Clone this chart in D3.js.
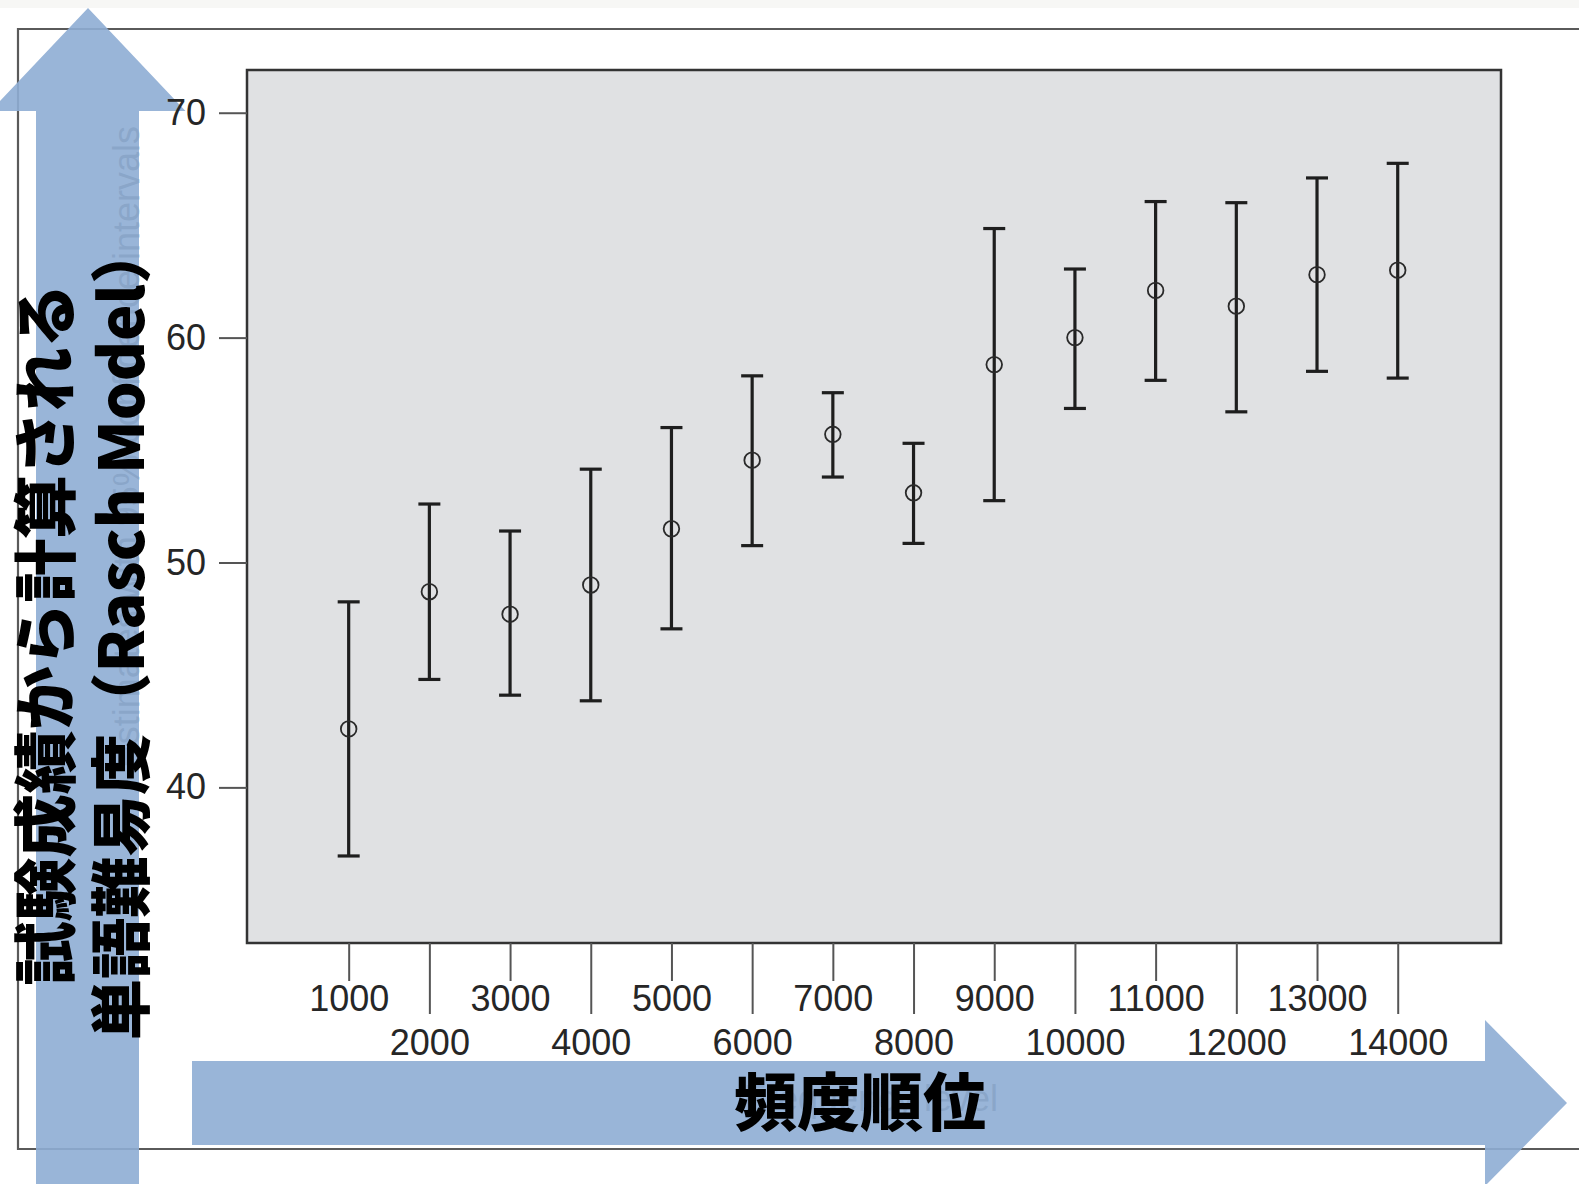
<!DOCTYPE html>
<html>
<head>
<meta charset="utf-8">
<script src="https://cdn.jsdelivr.net/npm/d3@7"></script>
<style>
	html, body { margin: 0; padding: 0; background: #fff; }
	svg { display: block; }
</style>
</head>
<body>
<div id="vis"></div>
<script>
// frequency ranks (x) and difficulty estimates with their intervals
var ranks = [1000, 2000, 3000, 4000, 5000, 6000, 7000, 8000, 9000, 10000, 11000, 12000, 13000, 14000];
var estimates = [42.6, 48.7, 47.7, 49.0, 51.5, 54.55, 55.7, 53.1, 58.8, 60.0, 62.1, 61.4, 62.8, 63.0];
var upper = [48.25, 52.6, 51.4, 54.15, 56.0, 58.3, 57.55, 55.3, 64.85, 63.05, 66.05, 66.0, 67.1, 67.75];
var lower = [36.95, 44.8, 44.1, 43.85, 47.05, 50.75, 53.8, 50.85, 52.75, 56.85, 58.1, 56.7, 58.5, 58.2];
var yTicks = [40, 50, 60, 70];
var xTicksOdd = [1000, 3000, 5000, 7000, 9000, 11000, 13000];
var xTicksEven = [2000, 4000, 6000, 8000, 10000, 12000, 14000];

var yTitle = ['試験成績から計算される', '単語難易度（Rasch Model）'];
var xTitle = '頻度順位';
// faint titles of the original chart showing through the arrows
var oldYTitle = 'Estimates with 95% confidence intervals';
var oldXTitle = 'Frequency level';

var width = 1579,
	height = 1184;

// plot panel
var panel = { left: 247, top: 70, right: 1501, bottom: 943 };

var svg = d3
	.select('#vis')
	.append('svg')
	.attr('width', width)
	.attr('height', height);

var x = d3.scaleLinear().domain([ -260, 15280 ]).range([ panel.left, panel.right ]);
var y = d3.scaleLinear().domain([ 33.08, 71.9 ]).range([ panel.bottom, panel.top ]);

// light strip at the very top
svg.append('rect').attr('x', 0).attr('y', 0).attr('width', width).attr('height', 8).attr('fill', '#f7f7f5');

// outer frame (open on the right)
svg
	.append('path')
	.attr('d', 'M' + width + ',29H18V1149H' + width)
	.attr('fill', 'none')
	.attr('stroke', '#5a5a5a')
	.attr('stroke-width', 2.2);

// grey plotting panel
svg
	.append('rect')
	.attr('x', panel.left)
	.attr('y', panel.top)
	.attr('width', panel.right - panel.left)
	.attr('height', panel.bottom - panel.top)
	.attr('fill', '#e0e1e3')
	.attr('stroke', '#333')
	.attr('stroke-width', 2.5);

// error bars
var bars = svg
	.append('g')
	.attr('class', 'bars')
	.selectAll('g')
	.data(ranks)
	.enter()
	.append('g');

bars
	.append('line')
	.attr('x1', function(d) { return x(d); })
	.attr('x2', function(d) { return x(d); })
	.attr('y1', function(d, i) { return y(upper[i]); })
	.attr('y2', function(d, i) { return y(lower[i]); })
	.attr('stroke', '#1e1e1e')
	.attr('stroke-width', 3.2);

bars
	.append('line')
	.attr('x1', function(d) { return x(d) - 11; })
	.attr('x2', function(d) { return x(d) + 11; })
	.attr('y1', function(d, i) { return y(upper[i]); })
	.attr('y2', function(d, i) { return y(upper[i]); })
	.attr('stroke', '#1e1e1e')
	.attr('stroke-width', 3.2);

bars
	.append('line')
	.attr('x1', function(d) { return x(d) - 11; })
	.attr('x2', function(d) { return x(d) + 11; })
	.attr('y1', function(d, i) { return y(lower[i]); })
	.attr('y2', function(d, i) { return y(lower[i]); })
	.attr('stroke', '#1e1e1e')
	.attr('stroke-width', 3.2);

bars
	.append('circle')
	.attr('cx', function(d) { return x(d); })
	.attr('cy', function(d, i) { return y(estimates[i]); })
	.attr('r', 7.8)
	.attr('fill', 'none')
	.attr('stroke', '#2a2a2a')
	.attr('stroke-width', 1.8);

// faint old titles
svg
	.append('text')
	.attr('transform', 'translate(126,126) rotate(-90)')
	.attr('text-anchor', 'end')
	.attr('dominant-baseline', 'central')
	.style('font-family', 'Liberation Sans, Arial, sans-serif')
	.style('font-size', '36px')
	.attr('fill', '#666')
	.text(oldYTitle);

svg
	.append('text')
	.attr('x', 871)
	.attr('y', 1111)
	.attr('text-anchor', 'middle')
	.style('font-family', 'Liberation Sans, Arial, sans-serif')
	.style('font-size', '36px')
	.attr('fill', '#666')
	.text(oldXTitle);

// blue arrows
var arrowFill = 'rgb(142,173,212)';

svg
	.append('path')
	.attr('d', 'M88,8L185.5,111H139V' + (height + 5) + 'H36V111H-9.5Z')
	.attr('fill', arrowFill)
	.attr('opacity', 0.9);

svg
	.append('path')
	.attr('d', 'M192,1061H1485V1020L1567,1103L1485,1186V1145H192Z')
	.attr('fill', arrowFill)
	.attr('opacity', 0.9);

// axes
var tickFont = 'Liberation Sans, Arial, sans-serif';
var fmt = d3.format('d');

var yAxis = d3.axisLeft(y).tickValues(yTicks).tickSize(28).tickPadding(13).tickFormat(fmt);

var gy = svg.append('g').attr('transform', 'translate(' + panel.left + ',0)').call(yAxis);

var xOdd = d3.axisBottom(x).tickValues(xTicksOdd).tickSize(38).tickPadding(4).tickFormat(fmt);
var xEven = d3.axisBottom(x).tickValues(xTicksEven).tickSize(71).tickPadding(15).tickFormat(fmt);

var gxOdd = svg.append('g').attr('transform', 'translate(0,' + panel.bottom + ')').call(xOdd);
var gxEven = svg.append('g').attr('transform', 'translate(0,' + panel.bottom + ')').call(xEven);

[ gy, gxOdd, gxEven ].forEach(function(g) {
	g.select('.domain').remove();
	g.selectAll('.tick line').attr('stroke', '#555').attr('stroke-width', 2);
	g
		.selectAll('.tick text')
		.attr('fill', '#262626')
		.style('font-family', tickFont)
		.style('font-size', '36px');
});

// big Japanese titles
var jpFont = '"Noto Sans CJK JP", "Noto Sans CJK SC", sans-serif';

svg
	.append('text')
	.attr('transform', 'translate(41,634.5) rotate(-90)')
	.attr('text-anchor', 'middle')
	.attr('dominant-baseline', 'central')
	.style('font-family', jpFont)
	.style('font-weight', 900)
	.style('font-size', '63.8px')
	.attr('fill', '#000')
	.text(yTitle[0]);

svg
	.append('text')
	.attr('transform', 'translate(117,631.5) rotate(-90)')
	.attr('text-anchor', 'middle')
	.attr('dominant-baseline', 'central')
	.style('font-family', jpFont)
	.style('font-weight', 900)
	.style('font-size', '61.3px')
	.attr('fill', '#000')
	.text(yTitle[1]);

svg
	.append('text')
	.attr('x', 860)
	.attr('y', 1097)
	.attr('text-anchor', 'middle')
	.attr('dominant-baseline', 'central')
	.style('font-family', jpFont)
	.style('font-weight', 900)
	.style('font-size', '63px')
	.attr('fill', '#000')
	.text(xTitle);
</script>
</body>
</html>
